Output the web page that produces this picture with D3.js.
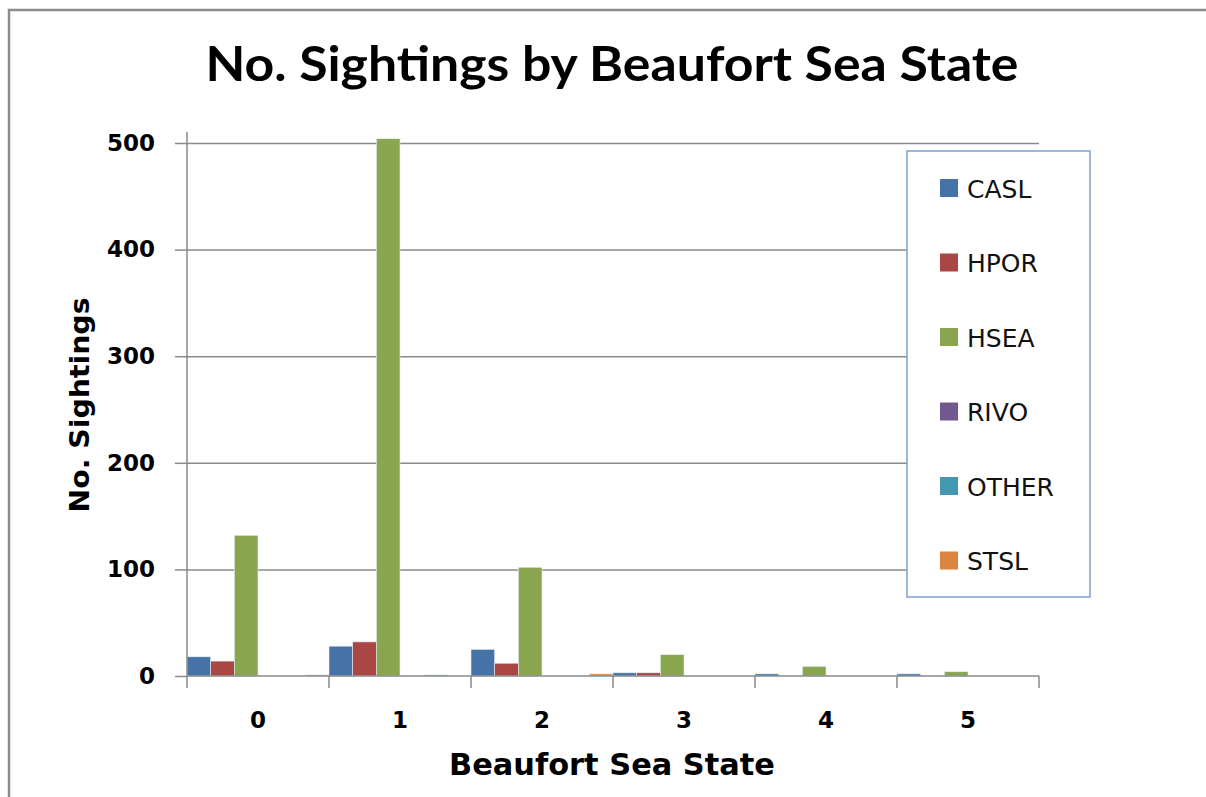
<!DOCTYPE html>
<html>
<head>
<meta charset="utf-8">
<script src="https://cdn.jsdelivr.net/npm/d3@7"></script>
<style>
  body { margin: 0; background: #fff; }
  svg { display: block; }
</style>
</head>
<body>
<svg id="drawing_region"></svg>
<script>
const width = 1206;
const height = 797;

// data
const categories = ["0", "1", "2", "3", "4", "5"];
const species = ["CASL", "HPOR", "HSEA", "RIVO", "OTHER", "STSL"];
const casl = [18, 28, 25, 3, 2, 2];
const hpor = [14, 32, 12, 3, 0, 0];
const hsea = [132, 504, 102, 20, 9, 4];
const rivo = [0, 0, 0, 0, 0, 0];
const other = [0, 1, 0, 0, 0, 0];
const stsl = [1, 0, 2, 0, 0, 0];
const y_ticks = [0, 100, 200, 300, 400, 500];

const colors = ["#4572A7", "#AA4643", "#89A54E", "#71588F", "#4198AF", "#DB843D"];
const values = [casl, hpor, hsea, rivo, other, stsl];

const plot = { left: 187, right: 1039, top: 143, bottom: 676 };

const svg = d3.select('#drawing_region')
    .attr('width', width)
    .attr('height', height);

// frame (only top and left visible in the reference)
svg.append("path")
    .attr("d", `M9,${height} V10 H${width}`)
    .attr("fill", "none")
    .attr("stroke", "#8c8c8c")
    .attr("stroke-width", 2.5);

svg.append("text")
    .attr("x", 612)
    .attr("y", 81)
    .attr("text-anchor", "middle")
    .attr("font-family", "Lato, 'Open Sans', sans-serif")
    .attr("font-weight", "bold")
    .attr("font-size", "47px")
    .attr("textLength", 813)
    .attr("lengthAdjust", "spacingAndGlyphs")
    .text("No. Sightings by Beaufort Sea State");

const xscale = d3.scaleBand()
    .domain(categories)
    .range([plot.left, plot.right])
    .padding(0);

const xinner = d3.scaleBand()
    .domain(species)
    .range([0, xscale.bandwidth()])
    .padding(0);

const yscale = d3.scaleLinear()
    .domain([0, 500])
    .range([plot.bottom, plot.top]);

// gridlines
svg.append("g")
    .attr("transform", `translate(${plot.left},0)`)
    .call(d3.axisLeft(yscale).tickValues(y_ticks.slice(1)).tickSize(-(plot.right - plot.left)).tickFormat(""))
    .call(g => g.select(".domain").remove())
    .call(g => g.selectAll("line").attr("stroke", "#8a8a8a").attr("stroke-width", 1.5));

// bars
const rows = [];
categories.forEach((c, i) => {
    species.forEach((s, j) => rows.push({ cat: c, sp: s, value: values[j][i], color: colors[j] }));
});

svg.selectAll("rect.bar")
    .data(rows)
    .join("rect")
    .attr("class", "bar")
    .attr("x", d => xscale(d.cat) + xinner(d.sp))
    .attr("y", d => yscale(d.value))
    .attr("width", xinner.bandwidth())
    .attr("height", d => plot.bottom - yscale(d.value))
    .attr("fill", d => d.color)
    .attr("stroke", d => d.value > 0 ? "#e8eef5" : "none")
    .attr("stroke-width", 0.6);

// y axis
const yaxis = svg.append("g")
    .attr("transform", `translate(${plot.left},0)`)
    .call(d3.axisLeft(yscale).tickValues(y_ticks).tickSize(12).tickPadding(20))
    .call(g => g.select(".domain").remove());
yaxis.selectAll("line").attr("stroke", "#8a8a8a").attr("stroke-width", 1.5);
yaxis.selectAll("text")
    .attr("font-family", "'DejaVu Sans', Verdana, sans-serif")
    .attr("font-weight", "bold")
    .attr("font-size", "23px")
    .attr("fill", "#000");

svg.append("line")
    .attr("x1", plot.left).attr("x2", plot.left)
    .attr("y1", 132).attr("y2", plot.bottom)
    .attr("stroke", "#8a8a8a")
    .attr("stroke-width", 1.5);

// x axis
svg.append("line")
    .attr("x1", plot.left).attr("x2", plot.right)
    .attr("y1", plot.bottom).attr("y2", plot.bottom)
    .attr("stroke", "#8a8a8a")
    .attr("stroke-width", 1.5);

const edges = categories.map(c => xscale(c)).concat([plot.right]);
svg.selectAll("line.xtick")
    .data(edges)
    .join("line")
    .attr("class", "xtick")
    .attr("x1", d => d).attr("x2", d => d)
    .attr("y1", plot.bottom).attr("y2", plot.bottom + 12)
    .attr("stroke", "#8a8a8a")
    .attr("stroke-width", 1.5);

svg.selectAll("text.xlabel")
    .data(categories)
    .join("text")
    .attr("class", "xlabel")
    .attr("x", d => xscale(d) + xscale.bandwidth() / 2)
    .attr("y", 728)
    .attr("text-anchor", "middle")
    .attr("font-family", "'DejaVu Sans', Verdana, sans-serif")
    .attr("font-weight", "bold")
    .attr("font-size", "23px")
    .text(d => d);

// axis titles
svg.append("text")
    .attr("x", 612)
    .attr("y", 775)
    .attr("text-anchor", "middle")
    .attr("font-family", "'DejaVu Sans', Verdana, sans-serif")
    .attr("font-weight", "bold")
    .attr("font-size", "30px")
    .attr("textLength", 326)
    .attr("lengthAdjust", "spacingAndGlyphs")
    .text("Beaufort Sea State");

svg.append("text")
    .attr("transform", "translate(89,405) rotate(-90)")
    .attr("text-anchor", "middle")
    .attr("font-family", "'DejaVu Sans', Verdana, sans-serif")
    .attr("font-weight", "bold")
    .attr("font-size", "26px")
    .attr("textLength", 215)
    .attr("lengthAdjust", "spacingAndGlyphs")
    .text("No. Sightings");

// legend
const legend = svg.append("g");
legend.append("rect")
    .attr("x", 907).attr("y", 151)
    .attr("width", 183).attr("height", 446)
    .attr("fill", "#fff")
    .attr("stroke", "#7ea1cc")
    .attr("stroke-width", 1.5);

const item = legend.selectAll("g.item")
    .data(species)
    .join("g")
    .attr("class", "item")
    .attr("transform", (d, i) => `translate(0,${188 + i * 74.5})`);

item.append("rect")
    .attr("x", 940).attr("y", -9)
    .attr("width", 18).attr("height", 18)
    .attr("fill", (d, i) => colors[i]);

item.append("text")
    .attr("x", 967)
    .attr("y", 9.5)
    .attr("font-family", "'DejaVu Sans', Verdana, sans-serif")
    .attr("font-size", "25px")
    .attr("fill", "#111")
    .text(d => d);
</script>
</body>
</html>
